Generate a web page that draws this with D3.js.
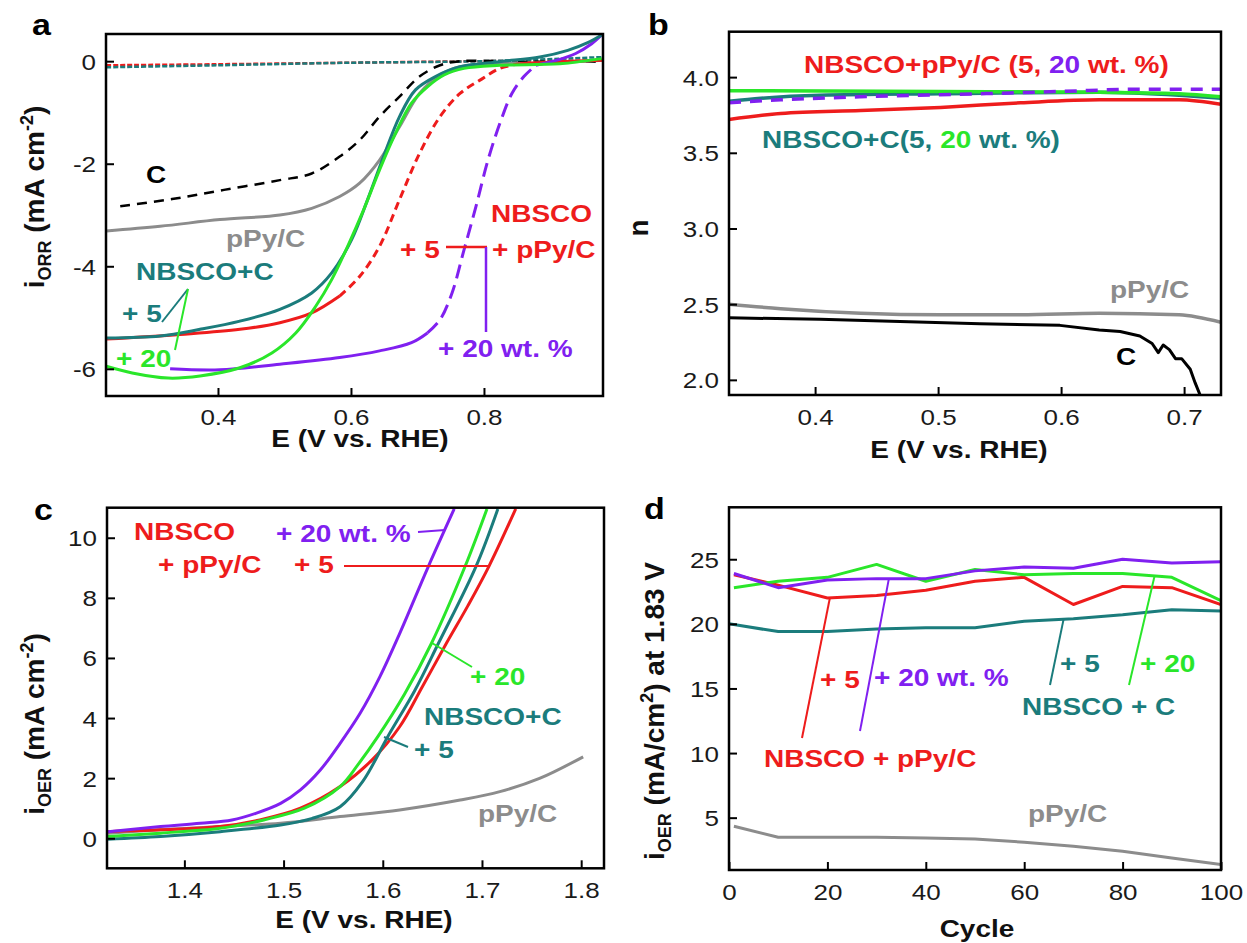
<!DOCTYPE html>
<html><head><meta charset="utf-8">
<script src="https://cdn.jsdelivr.net/npm/d3@7"></script>
<style>body{margin:0;background:#fff}svg{display:block}text{font-family:Arial,"Liberation Sans",sans-serif}</style>
</head><body><svg id="chart" width="1247" height="943"></svg>
<script>
// ---------------- DATA ----------------
// Panel a : ORR LSV, E (V vs RHE) vs i (mA cm^-2)
const aC_E    = [0.253,0.331,0.409,0.493,0.541,0.583,0.613,0.643,0.673,0.703,0.734,0.764,0.85,0.979];
const aC_i    = [-2.83,-2.69,-2.51,-2.32,-2.19,-1.86,-1.54,-1.08,-0.69,-0.30,-0.08,0.0,-0.01,-0.01];
const aPPy_E  = [0.232,0.313,0.403,0.493,0.541,0.583,0.613,0.643,0.673,0.703,0.734,0.764,0.824,0.9,0.979];
const aPPy_i  = [-3.31,-3.22,-3.09,-3.0,-2.87,-2.64,-2.38,-1.93,-1.28,-0.63,-0.27,-0.11,-0.05,-0.03,0.02];
const aNC5_E  = [0.232,0.313,0.373,0.433,0.493,0.541,0.571,0.601,0.625,0.649,0.673,0.697,0.727,0.764,0.824,0.884,0.926,0.956,0.977];
const aNC5_i  = [-5.40,-5.36,-5.23,-5.07,-4.84,-4.52,-4.13,-3.48,-2.70,-1.86,-1.08,-0.56,-0.30,-0.11,-0.01,0.08,0.21,0.36,0.51];
const aNC20_E = [0.232,0.271,0.325,0.373,0.433,0.481,0.517,0.547,0.571,0.595,0.619,0.643,0.667,0.691,0.715,0.740,0.770,0.824,0.914,0.977];
const aNC20_i = [-5.95,-6.08,-6.18,-6.14,-5.98,-5.69,-5.30,-4.78,-4.26,-3.61,-2.90,-2.12,-1.41,-0.82,-0.50,-0.27,-0.14,-0.08,-0.05,0.05];
const aNP5_E  = [0.232,0.343,0.433,0.493,0.541,0.583,0.613,0.643,0.673,0.703,0.734,0.764,0.794,0.824,0.854,0.914,0.979];
const aNP5_i  = [-5.42,-5.33,-5.23,-5.10,-4.91,-4.58,-4.20,-3.61,-2.70,-1.80,-1.08,-0.63,-0.37,-0.14,-0.05,-0.01,0.02];
const aNP20_E = [0.328,0.403,0.493,0.583,0.643,0.691,0.715,0.734,0.752,0.770,0.788,0.806,0.824,0.842,0.860,0.878,0.91,0.938,0.962,0.977];
const aNP20_i = [-6.0,-6.02,-5.91,-5.78,-5.65,-5.49,-5.30,-5.04,-4.52,-3.68,-2.83,-1.93,-1.21,-0.63,-0.30,-0.08,0.02,0.15,0.34,0.51];
const aRing_E     = [0.232,0.4,0.6,0.8,0.979];
const aRingRed_i  = [-0.08,-0.06,-0.03,0.0,0.01];
const aRingTeal_i = [-0.12,-0.08,-0.03,0.0,0.08];
const aXTicks = [0.4,0.6,0.8];
const aYTicks = [0,-2,-4,-6];

// Panel b : electron transfer number n
const bNC20_E = [0.330,0.502,0.631,0.696,0.730];
const bNC20_n = [3.91,3.905,3.90,3.89,3.87];
const bNC5_E  = [0.330,0.356,0.404,0.502,0.631,0.696,0.730];
const bNC5_n  = [3.84,3.86,3.88,3.89,3.90,3.88,3.86];
const bNP20_E = [0.330,0.372,0.437,0.534,0.599,0.664,0.730];
const bNP20_n = [3.83,3.85,3.87,3.89,3.905,3.92,3.92];
const bNP5_E  = [0.330,0.372,0.437,0.502,0.567,0.631,0.696,0.730];
const bNP5_n  = [3.72,3.76,3.78,3.80,3.83,3.85,3.85,3.82];
const bPPy_E  = [0.330,0.372,0.437,0.502,0.567,0.631,0.696,0.730];
const bPPy_n  = [2.50,2.47,2.44,2.43,2.43,2.44,2.43,2.38];
const bC_E    = [0.330,0.404,0.469,0.534,0.599,0.631,0.648,0.664,0.674,0.679,0.683,0.688,0.693,0.698,0.705,0.709,0.713];
const bC_n    = [2.41,2.40,2.385,2.37,2.36,2.33,2.32,2.29,2.24,2.18,2.23,2.20,2.14,2.14,2.07,1.98,1.90];
const bXTicks = [0.4,0.5,0.6,0.7];
const bYTicks = [2.0,2.5,3.0,3.5,4.0];

// Panel c : OER LSV
const cNP20_E = [1.323,1.376,1.416,1.448,1.472,1.497,1.517,1.537,1.557,1.577,1.597,1.617,1.646,1.672];
const cNP20_i = [0.22,0.39,0.50,0.61,0.83,1.16,1.61,2.27,3.16,4.15,5.37,6.81,9.05,10.96];
const cNC20_E = [1.323,1.376,1.436,1.480,1.521,1.557,1.575,1.595,1.622,1.649,1.683,1.705];
const cNC20_i = [0.06,0.17,0.33,0.61,1.0,1.72,2.45,3.38,4.8,6.48,9.05,10.96];
const cNC5_E  = [1.323,1.376,1.436,1.497,1.529,1.557,1.580,1.605,1.632,1.656,1.694,1.716];
const cNC5_i  = [-0.03,0.06,0.22,0.44,0.66,1.05,1.9,3.38,4.9,6.48,9.05,10.96];
const cNP5_E  = [1.323,1.376,1.436,1.476,1.517,1.557,1.589,1.617,1.640,1.664,1.686,1.707,1.734];
const cNP5_i  = [0.22,0.28,0.39,0.61,1.0,1.72,2.6,3.71,5.05,6.48,7.75,9.05,10.96];
const cPPy_E  = [1.323,1.376,1.436,1.497,1.557,1.617,1.678,1.718,1.758,1.802];
const cPPy_i  = [0.17,0.28,0.39,0.50,0.72,0.94,1.27,1.55,1.99,2.71];
const cXTicks = [1.4,1.5,1.6,1.7,1.8];
const cYTicks = [0,2,4,6,8,10];

// Panel d : i_OER at 1.83 V vs cycle
const dCycles     = [1,10,20,30,40,50,60,70,80,90,100];
const dCyclesTeal = [0,10,20,30,40,50,60,70,80,90,100];
const dNP20 = [23.9,22.8,23.4,23.5,23.5,24.1,24.4,24.3,25.0,24.7,24.8];
const dNP5  = [23.8,23.0,22.0,22.2,22.6,23.3,23.6,21.5,22.9,22.8,21.5];
const dNC20 = [22.8,23.3,23.6,24.6,23.3,24.2,23.8,23.9,23.9,23.6,21.8];
const dNC5  = [20.0,19.4,19.4,19.6,19.7,19.7,20.2,20.4,20.7,21.1,21.0];
const dPPy  = [4.33,3.48,3.48,3.48,3.43,3.35,3.1,2.78,2.40,1.88,1.37];
const dXTicks = [0,20,40,60,80,100];
const dYTicks = [5,10,15,20,25];

// ---------------- STYLE ----------------
const COL = {red:'#ee1c1c', purple:'#8020f0', green:'#2ae62a', teal:'#1b7c7c', grey:'#8c8c8c', black:'#000'};
const SQ = 0.86;
const svg = d3.select('#chart');
const zip = (xs, ys) => xs.map((v, k) => [v, ys[k]]);

function makePanel(o){
  const x = d3.scaleLinear().domain(o.xd).range([o.L, o.R]);
  const y = d3.scaleLinear().domain(o.yd).range([o.B, o.T]);
  const id = 'clip' + o.name;
  svg.append('clipPath').attr('id', id).append('rect')
     .attr('x', o.L).attr('y', o.T).attr('width', o.R - o.L).attr('height', o.B - o.T);
  const plot = svg.append('g').attr('clip-path', `url(#${id})`);
  const gx = svg.append('g').attr('transform', `translate(0,${o.B})`)
     .call(d3.axisBottom(x).tickValues(o.xt).tickFormat(o.xf).tickSize(-8).tickPadding(0));
  const gy = svg.append('g').attr('transform', `translate(${o.L},0)`)
     .call(d3.axisLeft(y).tickValues(o.yt).tickFormat(o.yf).tickSize(-8).tickPadding(0));
  [gx, gy].forEach(g => {
    g.select('.domain').remove();
    g.selectAll('.tick line').attr('stroke', '#000').attr('stroke-width', 2);
    g.selectAll('.tick text').attr('x', null).attr('y', null).attr('dy', null)
      .attr('font-size', 26).attr('fill', '#1a1a1a');
  });
  gx.selectAll('.tick text').attr('text-anchor', 'middle').attr('transform', `translate(0,${o.xlab || 30}) scale(1,${SQ})`);
  gy.selectAll('.tick text').attr('text-anchor', 'end').attr('transform', `translate(-10,8) scale(1,${SQ})`);
  svg.append('rect').attr('x', o.L).attr('y', o.T).attr('width', o.R - o.L).attr('height', o.B - o.T)
     .attr('fill', 'none').attr('stroke', '#000').attr('stroke-width', 2.5);
  return {x, y, plot, smooth: o.smooth};
}

function curve(P, pts, color, opt = {}){
  const cv = opt.linear ? d3.curveLinear : (P.smooth ? d3.curveCatmullRom.alpha(0.5) : d3.curveMonotoneX);
  const gen = d3.line().x(d => P.x(d[0])).y(d => P.y(d[1])).curve(cv);
  P.plot.append('path').attr('d', gen(pts)).attr('fill', 'none').attr('stroke', color)
     .attr('stroke-width', opt.w || 3).attr('stroke-linejoin', 'round').attr('stroke-linecap', 'butt')
     .attr('stroke-dasharray', opt.dash || null);
}
function splitCurve(P, pts, color, lo, hi, dash, w){
  curve(P, pts.filter(d => d[0] <= lo), color, {w});
  curve(P, pts.filter(d => d[0] >= lo && d[0] <= hi), color, {w, dash});
  curve(P, pts.filter(d => d[0] >= hi), color, {w});
}

function label(x, y, parts, o = {}){
  const g = svg.append('g').attr('transform', `translate(${x},${y}) scale(1,${SQ})`);
  const t = g.append('text').attr('text-anchor', o.anchor || 'start')
     .attr('font-size', o.size || 28).attr('font-weight', o.weight || 'bold');
  parts.forEach(p => t.append('tspan').attr('fill', p[1]).text(p[0]));
}
function ytitle(x, y, parts){
  const g = svg.append('g').attr('transform', `translate(${x},${y}) rotate(-90)`);
  const t = g.append('text').attr('text-anchor', 'middle').attr('font-size', 28)
     .attr('font-weight', 'bold').attr('fill', '#111');
  parts.forEach(p => {
    const s = t.append('tspan').text(p.t);
    if (p.sub) s.attr('font-size', 18).attr('dy', 7);
    if (p.sup) s.attr('font-size', 18).attr('dy', p.dy);
    if (p.back) s.attr('dy', p.back);
  });
}
function seg(x1, y1, x2, y2, color, w = 2){
  svg.append('line').attr('x1', x1).attr('y1', y1).attr('x2', x2).attr('y2', y2)
     .attr('stroke', color).attr('stroke-width', w);
}
const f1 = d3.format('.1f');

// ---------------- PANEL A ----------------
const A = makePanel({name:'a', L:106, R:603, T:34, B:396, xd:[0.2316,0.979], yd:[-6.53,0.53],
  xt:aXTicks, yt:aYTicks, xf:f1, yf:d => String(d), smooth:true, xlab:29});
curve(A, zip(aRing_E, aRingRed_i), COL.red, {w:2.5, dash:'5,2'});
curve(A, zip(aRing_E, aRingTeal_i), COL.teal, {w:2.5, dash:'5,2'});
curve(A, zip(aC_E, aC_i), COL.black, {w:2.5, dash:'10,7'});
curve(A, zip(aPPy_E, aPPy_i), COL.grey, {w:3});
splitCurve(A, zip(aNP5_E, aNP5_i), COL.red, 0.583, 0.854, '8,5', 3);
splitCurve(A, zip(aNP20_E, aNP20_i), COL.purple, 0.715, 0.878, '14,7', 3);
curve(A, zip(aNC5_E, aNC5_i), COL.teal, {w:3});
curve(A, zip(aNC20_E, aNC20_i), COL.green, {w:3});

label(32, 35, [['a', '#000']], {size:34});
ytitle(44, 197, [{t:'i'}, {t:'ORR', sub:true}, {t:' (mA cm', back:-7}, {t:'-2', sup:true, dy:-11}, {t:')', back:11}]);
label(360, 447, [['E (V vs. RHE)', '#111']], {anchor:'middle'});
label(156, 183, [['C', COL.black]], {anchor:'middle'});
label(226, 247, [['pPy/C', COL.grey]]);
label(136, 280, [['NBSCO+C', COL.teal]]);
label(122, 322, [['+ 5', COL.teal]]);
label(116, 367, [['+ 20', COL.green]]);
seg(162, 322, 188, 289, COL.teal);
seg(175, 350, 188, 289, COL.green);
label(491, 222, [['NBSCO', COL.red]]);
label(400, 258, [['+ 5', COL.red]]);
label(492, 258, [['+ pPy/C', COL.red]]);
label(438, 357, [['+ 20 wt. %', COL.purple]]);
seg(446, 247, 487, 247, COL.red, 2.5);
seg(486, 247, 486, 332, COL.purple, 2.5);

// ---------------- PANEL B ----------------
const B = makePanel({name:'b', L:729, R:1221, T:31.7, B:395, xd:[0.330,0.730], yd:[1.9,4.3],
  xt:bXTicks, yt:bYTicks, xf:f1, yf:f1});
curve(B, zip(bPPy_E, bPPy_n), COL.grey, {w:3.5});
curve(B, zip(bC_E, bC_n), COL.black, {w:3, linear:true});
curve(B, zip(bNP5_E, bNP5_n), COL.red, {w:3.5});
curve(B, zip(bNC5_E, bNC5_n), COL.teal, {w:3.5});
curve(B, zip(bNC20_E, bNC20_n), COL.green, {w:3.5});
curve(B, zip(bNP20_E, bNP20_n), COL.purple, {w:3.5, dash:'12,9'});

label(648, 35, [['b', '#000']], {size:34});
ytitle(648, 228, [{t:'n'}]);
label(959, 458, [['E (V vs. RHE)', '#111']], {anchor:'middle'});
label(804, 73, [['NBSCO+pPy/C (5, ', COL.red], ['20', COL.purple], [' wt. %)', COL.red]]);
label(762, 148, [['NBSCO+C(5, ', COL.teal], ['20', COL.green], [' wt. %)', COL.teal]]);
label(1110, 298, [['pPy/C', COL.grey]]);
label(1116, 365, [['C', COL.black]]);

// ---------------- PANEL C ----------------
const C = makePanel({name:'c', L:107, R:604, T:507.7, B:868.3, xd:[1.322,1.823], yd:[-1,11],
  xt:cXTicks, yt:cYTicks, xf:f1, yf:d => String(d), smooth:true});
curve(C, zip(cPPy_E, cPPy_i), COL.grey, {w:3});
curve(C, zip(cNP5_E, cNP5_i), COL.red, {w:3});
curve(C, zip(cNC5_E, cNC5_i), COL.teal, {w:3});
curve(C, zip(cNC20_E, cNC20_i), COL.green, {w:3});
curve(C, zip(cNP20_E, cNP20_i), COL.purple, {w:3});

label(34, 520, [['c', '#000']], {size:34});
ytitle(44, 724, [{t:'i'}, {t:'OER', sub:true}, {t:' (mA cm', back:-7}, {t:'-2', sup:true, dy:-11}, {t:')', back:11}]);
label(364, 928, [['E (V vs. RHE)', '#111']], {anchor:'middle'});
label(134, 540, [['NBSCO', COL.red]]);
label(158, 573, [['+ pPy/C', COL.red]]);
label(276, 542, [['+ 20 wt. %', COL.purple]]);
seg(418, 532, 445, 530, COL.purple);
label(294, 573, [['+ 5', COL.red]]);
seg(344, 566, 490, 566, COL.red);
label(470, 685, [['+ 20', COL.green]]);
seg(472, 667, 432, 643, COL.green);
label(424, 725, [['NBSCO+C', COL.teal]]);
label(414, 758, [['+ 5', COL.teal]]);
seg(408, 747, 384, 737, COL.teal);
label(478, 822, [['pPy/C', COL.grey]]);

// ---------------- PANEL D ----------------
const D = makePanel({name:'d', L:729, R:1221, T:507.3, B:870, xd:[0,100], yd:[0.95,29.02],
  xt:dXTicks, yt:dYTicks, xf:d => String(d), yf:d => String(d)});
curve(D, zip(dCycles, dPPy), COL.grey, {w:3, linear:true});
curve(D, zip(dCyclesTeal, dNC5), COL.teal, {w:3, linear:true});
curve(D, zip(dCycles, dNP5), COL.red, {w:3, linear:true});
curve(D, zip(dCycles, dNC20), COL.green, {w:3, linear:true});
curve(D, zip(dCycles, dNP20), COL.purple, {w:3, linear:true});

label(644, 519, [['d', '#000']], {size:34});
ytitle(664, 711, [{t:'i'}, {t:'OER', sub:true}, {t:' (mA/cm', back:-7}, {t:'2', sup:true, dy:-11}, {t:') at 1.83 V', back:11}]);
label(977, 937, [['Cycle', '#111']], {anchor:'middle'});
label(820, 688, [['+ 5', COL.red]]);
seg(D.x(20.5), D.y(22.0), 802, 738, COL.red);
label(874, 686, [['+ 20 wt. %', COL.purple]]);
seg(D.x(32.5), D.y(23.5), 860, 731, COL.purple);
label(764, 767, [['NBSCO + pPy/C', COL.red]]);
label(1060, 672, [['+ 5', COL.teal]]);
seg(D.x(68), D.y(20.35), 1050, 685, COL.teal);
label(1140, 672, [['+ 20', COL.green]]);
seg(D.x(86.5), D.y(23.7), 1129, 685, COL.green);
label(1022, 715, [['NBSCO + C', COL.teal]]);
label(1028, 822, [['pPy/C', COL.grey]]);
</script></body></html>
